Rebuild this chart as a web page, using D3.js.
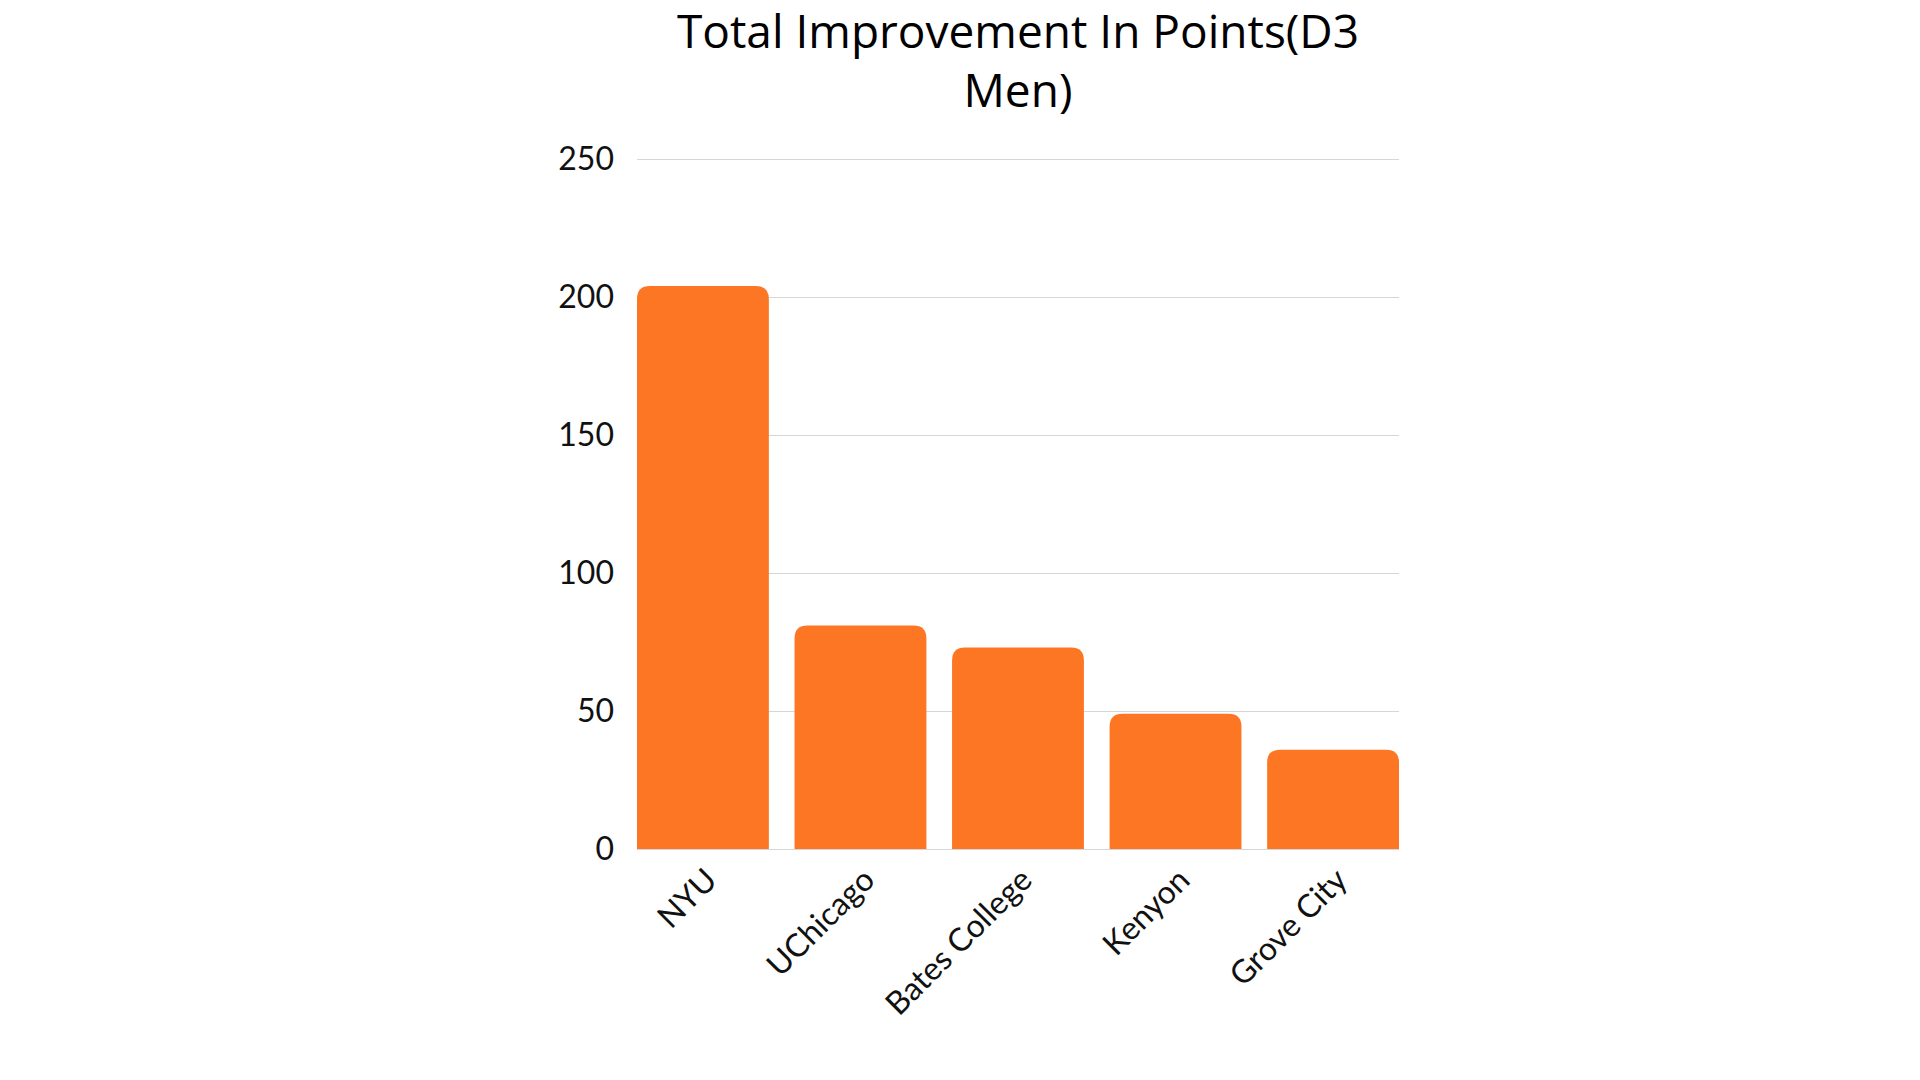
<!DOCTYPE html>
<html>
<head>
    <meta charset="utf-8">
    <title>Total Improvement In Points</title>
    <script src="https://d3js.org/d3.v7.min.js"></script>
    <style>
        body { margin: 0; background: #fff; }
    </style>
</head>
<body>
<div id="chart"></div>
<script type="text/javascript">
    // data
    let schools = ["NYU", "UChicago", "Bates College", "Kenyon", "Grove City"];
    let points = [204, 81, 73, 49, 36];
    let yTicks = [0, 50, 100, 150, 200, 250];
    let titleLines = ["Total Improvement In Points(D3", "Men)"];

    let width = 1920, height = 1080;
    // plot area in page pixels
    let margin = {top: 159, right: 521, bottom: 231, left: 637};
    let w = width - margin.left - margin.right;
    let h = height - margin.top - margin.bottom;

    let svg = d3.select("#chart")
            .append("svg")
                .attr("width", width)
                .attr("height", height);

    let g = svg.append("g")
            .attr("transform", "translate(" + margin.left + "," + margin.top + ")");

    let xScale = d3.scaleBand()
                    .domain(schools)
                    .range([0, w])
                    .paddingInner(0.163)
                    .paddingOuter(0);

    let yScale = d3.scaleLinear()
                    .domain([0, 250])
                    .range([h, 0]);

    // gridlines + tick labels
    let yAxis = d3.axisLeft(yScale)
                    .tickValues(yTicks)
                    .tickSize(-w)
                    .tickPadding(23);

    let ya = g.append("g").call(yAxis);
    ya.select(".domain").remove();
    ya.selectAll(".tick line")
        .attr("stroke", "#d6d6d6")
        .attr("stroke-width", 1.2);
    ya.selectAll(".tick text")
        .attr("font-family", "Lato, sans-serif")
        .attr("font-size", "32px")
        .attr("fill", "#111");

    // bars with rounded top corners
    let r = 13;
    function barPath(x, y, bw, bh) {
        let rr = Math.min(r, bh, bw / 2);
        return "M" + x + "," + (y + bh) +
               "V" + (y + rr) +
               "Q" + x + "," + y + " " + (x + rr) + "," + y +
               "H" + (x + bw - rr) +
               "Q" + (x + bw) + "," + y + " " + (x + bw) + "," + (y + rr) +
               "V" + (y + bh) + "Z";
    }

    g.selectAll("path.bar")
        .data(schools)
        .enter()
        .append("path")
        .attr("class", "bar")
        .attr("fill", "#fd7623")
        .attr("d", function(d, i) {
            let y = yScale(points[i]);
            return barPath(xScale(d), y, xScale.bandwidth(), h - y);
        });

    // x labels, rotated
    g.selectAll("text.xlabel")
        .data(schools)
        .enter()
        .append("text")
        .attr("class", "xlabel")
        .attr("transform", function(d) {
            return "translate(" + (xScale(d) + xScale.bandwidth() / 2 + 16) + "," + (h + 33) + ") rotate(-45)";
        })
        .style("text-anchor", "end")
        .attr("font-family", "Lato, sans-serif")
        .attr("font-size", "32px")
        .attr("fill", "#111")
        .text(function(d) { return d; });

    // title
    let title = svg.append("text")
        .attr("x", margin.left + w / 2)
        .attr("y", 48)
        .style("text-anchor", "middle")
        .attr("font-family", "'Open Sans', sans-serif")
        .attr("font-size", "46px")
        .attr("fill", "#000");

    title.selectAll("tspan")
        .data(titleLines)
        .enter()
        .append("tspan")
        .attr("x", margin.left + w / 2)
        .attr("dy", function(d, i) { return i === 0 ? 0 : 59; })
        .text(function(d) { return d; });
</script>
</body>
</html>
